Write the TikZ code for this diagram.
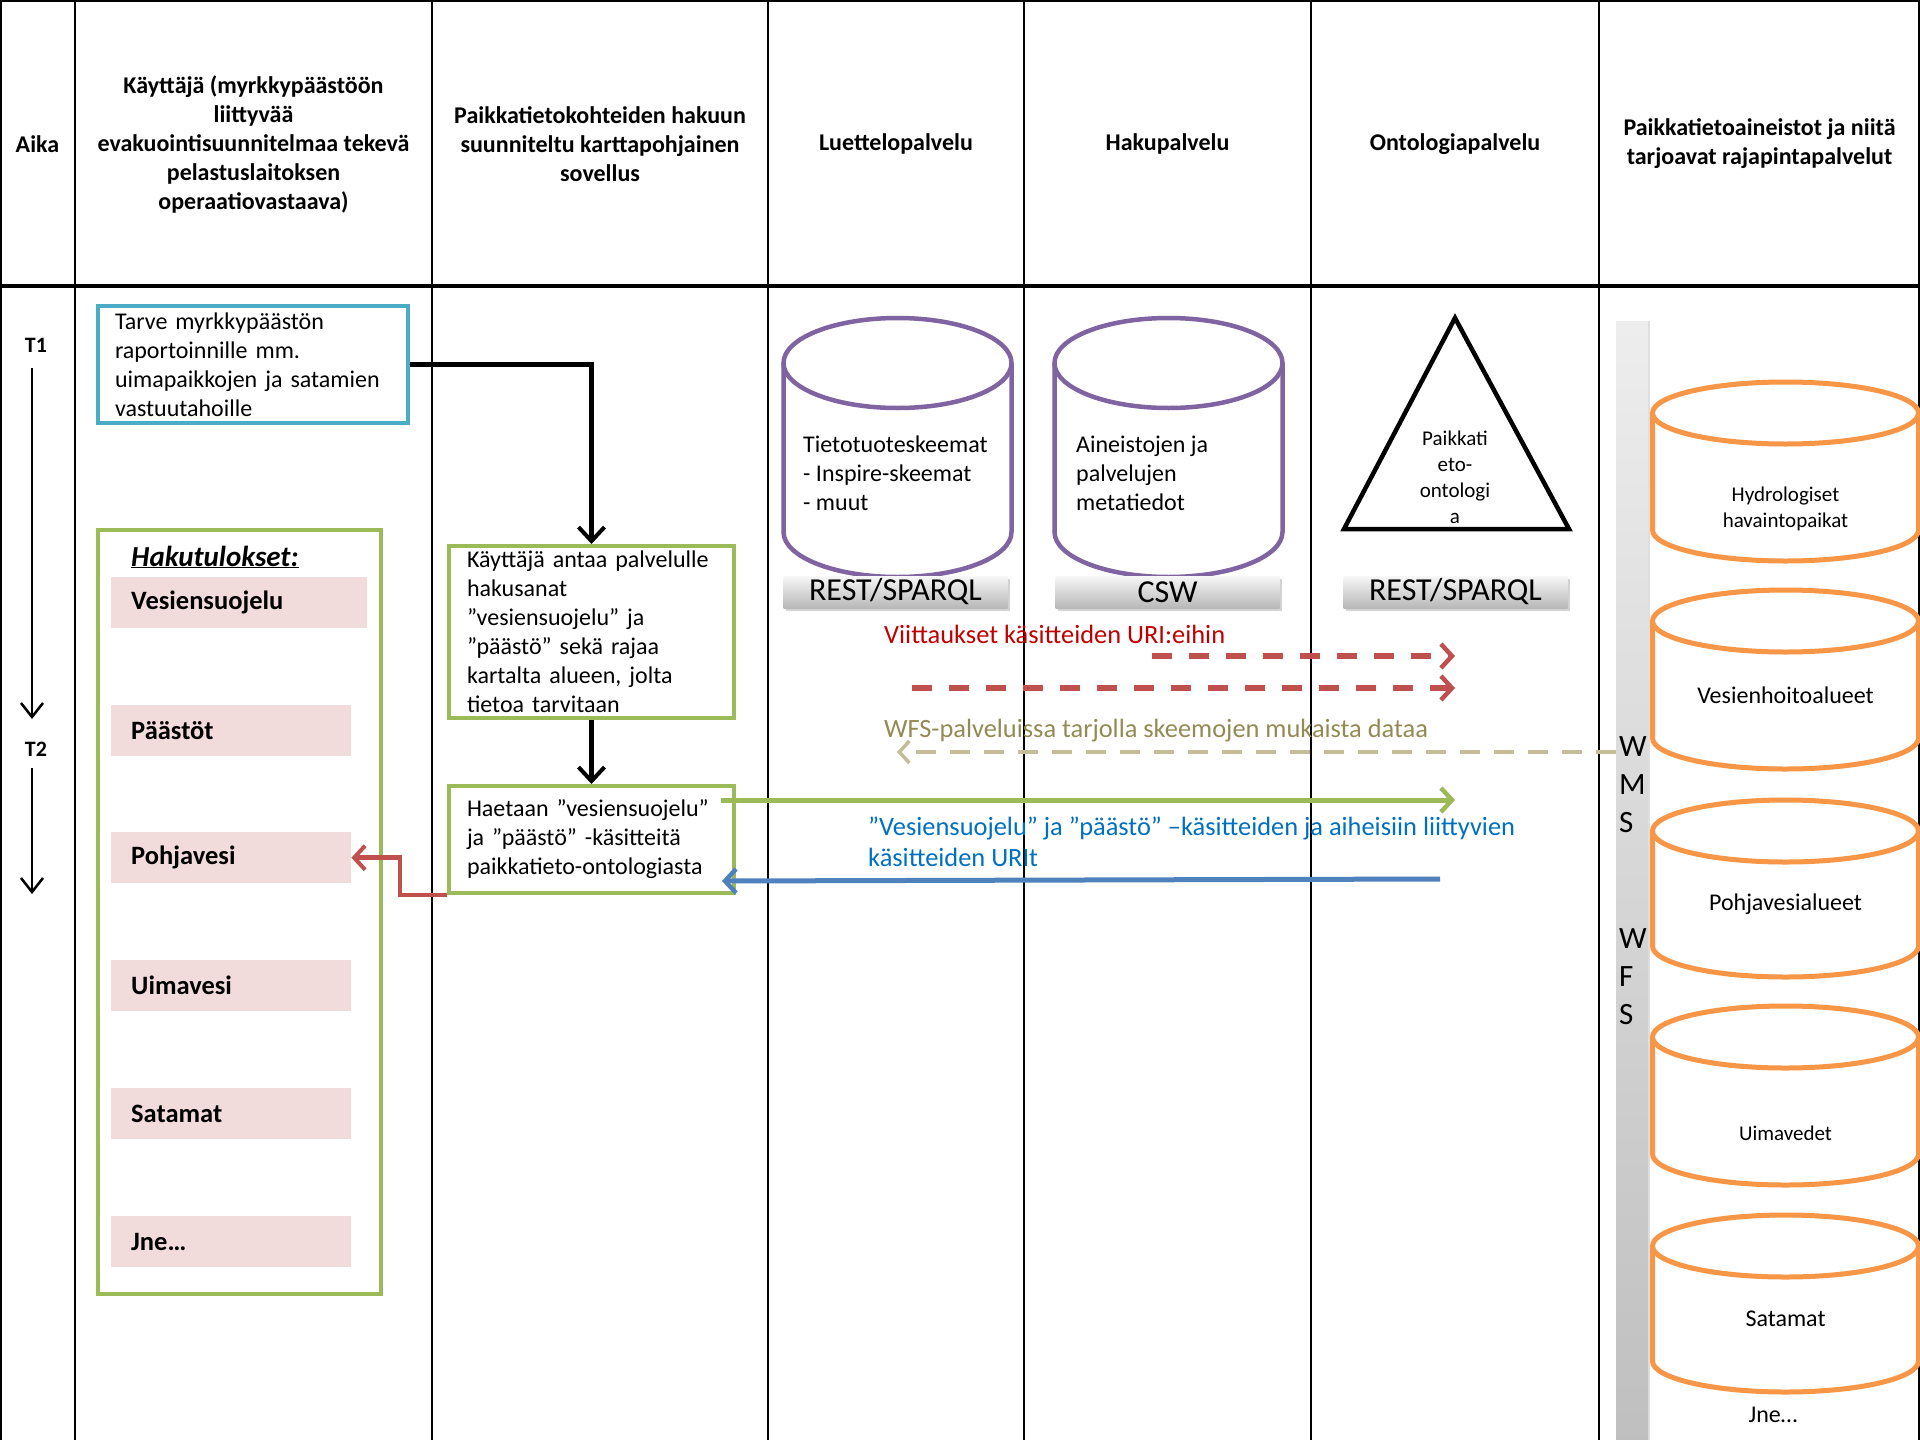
\documentclass[tikz,border=0pt]{standalone}
\usepackage{fontspec}
\setmainfont{Carlito}
\usetikzlibrary{arrows.meta,shadows,calc}
\definecolor{cBlueBox}{HTML}{4BACC6}
\definecolor{cGreen}{HTML}{9BBB59}
\definecolor{cRed}{HTML}{C0504D}
\definecolor{cPurple}{HTML}{8064A2}
\definecolor{cOrange}{HTML}{F79646}
\definecolor{cPink}{HTML}{F2DCDB}
\definecolor{cRedT}{HTML}{C00000}
\definecolor{cOlive}{HTML}{948A54}
\definecolor{cTan}{HTML}{C4BD97}
\definecolor{cBlueT}{HTML}{0070C0}
\definecolor{cBlueA}{HTML}{4F81BD}
\newcommand{\dbcyl}[6]{% style, cx, ytop, ybot, rx, ry
  \draw[#1] (#2-#5,#3+#6) -- (#2-#5,#4-#6) arc[start angle=180,end angle=0,x radius=#5,y radius=#6] -- (#2+#5,#3+#6);
  \draw[#1] (#2,#3+#6) ellipse[x radius=#5,y radius=#6];
}
\begin{document}
\begin{tikzpicture}[x=1pt,y=-1pt,
  frame/.style={line width=2.2pt,black},
  hdr/.style={font=\bfseries\fontsize{24}{29}\selectfont,align=center,inner sep=0pt},
  body/.style={font=\fontsize{24}{29}\selectfont},
  tlab/.style={font=\bfseries\fontsize{22}{26}\selectfont,inner sep=0pt},
  timearrow/.style={line width=2.5pt,-{Straight Barb[length=14pt,width=22pt,line width=2.5pt]}},
  bluebox/.style={body,draw=cBlueBox,line width=4pt,fill=white,align=left,text width=276pt,inner xsep=17pt,minimum height=117pt},
  greenbox/.style={body,draw=cGreen,line width=4pt,fill=white,align=left,text width=249pt,inner xsep=18pt},
  resbox/.style={draw=cGreen,line width=4pt,minimum width=283pt,minimum height=764pt},
  pinkbox/.style={fill=cPink,anchor=north west,minimum height=51pt,text width=200pt,inner xsep=20pt,align=left,font=\bfseries\fontsize{26.5}{31}\selectfont},
  blackarrow/.style={line width=5pt,-{Straight Barb[length=14pt,width=26pt,line width=4pt]}},
  redconn/.style={cRed,line width=4.5pt,-{Straight Barb[length=11pt,width=24pt,line width=4pt]}},
  purplecyl/.style={cPurple,line width=4.5pt,fill=white},
  orangecyl/.style={cOrange,line width=5pt,fill=white},
  bar/.style={top color=black!3,bottom color=black!28,draw=none,minimum width=224pt,minimum height=32pt,inner sep=0pt,font=\fontsize{32}{36}\selectfont,drop shadow={shadow xshift=2pt,shadow yshift=-3pt,opacity=0.35}},
  lbl/.style={font=\fontsize{26.4}{31.5}\selectfont,inner sep=0pt,anchor=west},
  reddash/.style={cRed,line width=6pt,dash pattern=on 20pt off 17pt,-{Straight Barb[length=11pt,width=24pt,line width=4.5pt]}},
  tandash/.style={cTan,line width=4pt,dash pattern=on 20pt off 14pt,-{Straight Barb[length=10pt,width=22pt,line width=3.5pt]}},
  greenarrow/.style={cGreen,line width=5pt,-{Straight Barb[length=11pt,width=24pt,line width=4.5pt]}},
  bluearrow/.style={cBlueA,line width=5pt,-{Straight Barb[length=11pt,width=24pt,line width=4.5pt]}},
  cyltext/.style={inner sep=0pt,align=center}
]
\useasboundingbox (0,0) rectangle (1920,1440);
\fill[white] (0,0) rectangle (1920,1440);

% table frame
\draw[frame] (1,1440) -- (1,1) -- (1919,1) -- (1919,1440);
\foreach \xx in {75,432,768,1024,1311,1599} \draw[frame] (\xx,0) -- (\xx,1440);
\draw[line width=4pt] (0,286) -- (1920,286);

% headers
\node[hdr] (hA) at (37.5,144) {Aika};
\node[hdr] (hB) at (253.5,144) {Käyttäjä (myrkkypäästöön\\liittyvää\\evakuointisuunnitelmaa tekevä\\pelastuslaitoksen\\operaatiovastaava)};
\node[hdr] (hC) at (600,144) {Paikkatietokohteiden hakuun\\suunniteltu karttapohjainen\\sovellus};
\node[hdr] (hD) at (896,144) {Luettelopalvelu};
\node[hdr] (hE) at (1167.5,144) {Hakupalvelu};
\node[hdr] (hF) at (1455,144) {Ontologiapalvelu};
\node[hdr] (hG) at (1759.5,144) {Paikkatietoaineistot ja niitä\\tarjoavat rajapintapalvelut};

% time axis
\node[tlab] (t1) at (36,345) {T1};
\node[tlab] (t2) at (36,749) {T2};
\coordinate (t1s) at (32,368);
\coordinate (t1e) at (32,719);
\coordinate (t2s) at (32,768);
\coordinate (t2e) at (32,894);
\draw[timearrow] (t1s) -- (t1e);
\draw[timearrow] (t2s) -- (t2e);

% user column
\node[bluebox] (need) at (253,364.5) {Tarve myrkkypäästön\\raportoinnille mm.\\uimapaikkojen ja satamien\\vastuutahoille};
\node[resbox] (res) at (239.5,912) {};
\node[font=\bfseries\itshape\fontsize{29}{34}\selectfont,anchor=west,inner sep=0pt] (restitle) at (131,557) {\underline{Hakutulokset:}};
\node[pinkbox,text width=216pt] (p1) at (111,577) {Vesiensuojelu};
\node[pinkbox] (p2) at (111,705) {Päästöt};
\node[pinkbox] (p3) at (111,832) {Pohjavesi};
\node[pinkbox] (p4) at (111,960) {Uimavesi};
\node[pinkbox] (p5) at (111,1088) {Satamat};
\node[pinkbox] (p6) at (111,1216) {Jne…};

% application column
\node[greenbox,minimum height=172pt] (give) at (591.5,632) {Käyttäjä antaa palvelulle\\hakusanat\\”vesiensuojelu” ja\\”päästö” sekä rajaa\\kartalta alueen, jolta\\tietoa tarvitaan};
\node[greenbox,minimum height=107pt] (hae) at (591.5,839.5) {Haetaan ”vesiensuojelu”\\ja ”päästö” -käsitteitä\\paikkatieto-ontologiasta};

\draw[blackarrow] (need.east) -| (give.north);
\draw[blackarrow] (give.south) -- (hae.north);
\draw[redconn] (hae.south west) -- ++(-47,0) |- (p3.east);

% catalogue and search services
\dbcyl{purplecyl}{897.5}{318}{577}{114}{45}
\dbcyl{purplecyl}{1168.5}{318}{577}{114}{45}
\node[body,anchor=west,align=left,inner sep=0pt] (cyl1text) at (803,473) {Tietotuoteskeemat\\- Inspire-skeemat\\- muut};
\node[body,anchor=west,align=left,inner sep=0pt] (cyl2text) at (1076,473) {Aineistojen ja\\palvelujen\\metatiedot};
\node[bar] (bar1) at (895.5,592) {REST/SPARQL};
\node[bar] (bar2) at (1167.5,592) {CSW};
\node[bar] (bar3) at (1455.5,592) {REST/SPARQL};

% ontology
\coordinate (apex) at (1455,318);
\coordinate (baseR) at (1569,529);
\coordinate (baseL) at (1344,529);
\draw[line width=4.5pt,line join=miter] (apex) -- (baseR) -- (baseL) -- cycle;
\node[font=\fontsize{21}{26}\selectfont,align=center,inner sep=0pt] (onto) at (1455,477) {Paikkati\\eto-\\ontologi\\a};

% data services column
\node[top color=black!7,bottom color=black!25,draw=none,anchor=north west,minimum width=32pt,minimum height=1119pt,inner sep=0pt,drop shadow={shadow xshift=2pt,shadow yshift=0pt,opacity=0.25}] (svcbar) at (1616,321) {};
\node[font=\fontsize{31}{38}\selectfont,align=left,anchor=west,inner sep=0pt] (wms) at (1619,785) {W\\M\\S};
\node[font=\fontsize{31}{38}\selectfont,align=left,anchor=west,inner sep=0pt] (wfs) at (1619,977) {W\\F\\S};

\dbcyl{orangecyl}{1785.5}{382}{561}{133}{31}
\dbcyl{orangecyl}{1785.5}{590}{769}{133}{31}
\dbcyl{orangecyl}{1785.5}{800}{977}{133}{31}
\dbcyl{orangecyl}{1785.5}{1006}{1185}{133}{31}
\dbcyl{orangecyl}{1785.5}{1215}{1392}{133}{31}
\node[cyltext,font=\fontsize{21}{26}\selectfont] (oA) at (1785.5,509) {Hydrologiset\\havaintopaikat};
\node[cyltext,font=\fontsize{24}{29}\selectfont] (oB) at (1785.5,695) {Vesienhoitoalueet};
\node[cyltext,font=\fontsize{24}{29}\selectfont] (oC) at (1785.5,904) {Pohjavesialueet};
\node[cyltext,font=\fontsize{21}{26}\selectfont] (oD) at (1785.5,1133) {Uimavedet};
\node[cyltext,font=\fontsize{24}{29}\selectfont] (oE) at (1785.5,1319) {Satamat};
\node[cyltext,font=\fontsize{24}{29}\selectfont] (oF) at (1773,1415) {Jne…};

% message labels and arrows
\node[lbl,text=cRedT] (lblRed) at (884,634) {Viittaukset käsitteiden URI:eihin};
\coordinate (r1s) at (1152,656);
\coordinate (r1e) at (1455,656);
\coordinate (r2s) at (912,688);
\coordinate (r2e) at (1455,688);
\draw[reddash] (r1s) -- (r1e);
\draw[reddash] (r2s) -- (r2e);

\node[lbl,text=cOlive] (lblOlive) at (884,731) {WFS-palveluissa tarjolla skeemojen mukaista dataa};
\coordinate (tanY) at (0,752);
\coordinate (tanEnd) at (897,752);
\draw[tandash] (svcbar.west |- tanY) -- (tanEnd);

\coordinate (gEnd) at (1455,800);
\draw[greenarrow] ($(hae.north east)+(-15,16)$) -- (gEnd);

\node[lbl,text=cBlueT,align=left] (lblBlue) at (868,842) {”Vesiensuojelu” ja ”päästö” –käsitteiden ja aiheisiin liittyvien\\käsitteiden URIt};
\coordinate (bStart) at (1440,879);
\draw[bluearrow] (bStart) -- ($(hae.south east)+(-14,-14)$);
\end{tikzpicture}
\end{document}
